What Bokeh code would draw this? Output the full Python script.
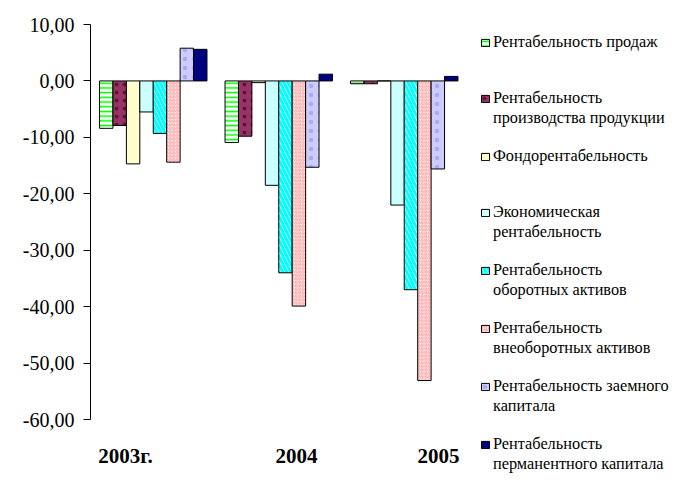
from bokeh.plotting import figure
from bokeh.models import (ColumnDataSource, Range1d, FixedTicker, CustomJSTickFormatter,
                          Legend, LegendItem, LinearAxis)
from bokeh.core.properties import value
from bokeh.transform import dodge
from bokeh.embed import file_html
from bokeh.resources import INLINE

# ---- data ----
categories = ["2003г.", "2004", "2005"]
series_names = [
    ["Рентабельность продаж"],
    ["Рентабельность", "производства продукции"],
    ["Фондорентабельность"],
    ["Экономическая", "рентабельность"],
    ["Рентабельность", "оборотных активов"],
    ["Рентабельность", "внеоборотных активов"],
    ["Рентабельность заемного", "капитала"],
    ["Рентабельность", "перманентного капитала"],
]
r_sales = [-8.4, -10.9, -0.5]
r_production = [-7.9, -9.8, -0.5]
r_fondo = [-14.7, -0.3, 0.0]
r_economic = [-5.5, -18.5, -22.0]
r_current_assets = [-9.3, -34.0, -37.0]
r_noncurrent_assets = [-14.4, -39.9, -53.1]
r_borrowed = [5.8, -15.3, -15.6]
r_permanent = [5.6, 1.2, 0.8]
y_ticks = [-60, -50, -40, -30, -20, -10, 0, 10]

series = [r_sales, r_production, r_fondo, r_economic, r_current_assets,
          r_noncurrent_assets, r_borrowed, r_permanent]

# ---- styles ----
FONT = "Liberation Serif"
styles = [
    dict(fill_color="white", hatch_pattern="-", hatch_color="#00FF00", hatch_scale=4.7, hatch_weight=1.6),
    dict(fill_color="#993366", hatch_pattern=".", hatch_color="#5c1538", hatch_scale=8, hatch_weight=1),
    dict(fill_color="#FFFFCC"),
    dict(fill_color="#CCFFFF"),
    dict(fill_color="white", hatch_pattern="\\", hatch_color="#00FFFF", hatch_scale=8, hatch_weight=3),
    dict(fill_color="white", hatch_pattern="/", hatch_color="#FF9999", hatch_scale=3.5, hatch_weight=1),
    dict(fill_color="#CCCCFF", hatch_pattern=".", hatch_color="#aaaaee", hatch_scale=9, hatch_weight=1),
    dict(fill_color="#000080"),
]
label_offsets = [-0.221, 0.141, 0.273]
label_y = -66.4
PX_PER_UNIT = 395 / 70.0

data = {"x": [i + 0.5 for i in range(len(categories))]}
for k, s in enumerate(series):
    data[f"s{k}"] = s
source = ColumnDataSource(data)
lab_source = ColumnDataSource(dict(x=[i + 0.5 + label_offsets[i] for i in range(len(categories))],
                                   y=[label_y] * len(categories), text=categories))

H = 487
p = figure(width=680, height=H, output_backend="svg", toolbar_location=None,
           x_range=Range1d(0, 4.701),
           y_range=Range1d(-60 - (H - 419) / PX_PER_UNIT, 10 + 24 / PX_PER_UNIT),
           min_border_left=90, min_border_right=0, min_border_top=0, min_border_bottom=0,
           x_axis_location=None, y_axis_location=None)
p.outline_line_color = None
p.xgrid.visible = False
p.ygrid.visible = False

bar_w = 0.107
renderers = []
for k in range(len(series)):
    off = (k - 3.5) * bar_w
    r = p.vbar(x=dodge("x", off, range=p.x_range), top=f"s{k}", bottom=0, width=bar_w,
               source=source, line_color="black", line_width=1, **styles[k])
    renderers.append(r)

# y axis
yaxis = LinearAxis(ticker=FixedTicker(ticks=y_ticks), bounds=(-60, 10))
yaxis.formatter = CustomJSTickFormatter(code="return tick.toFixed(2).replace('.', ',');")
yaxis.major_label_text_font = FONT
yaxis.major_label_text_font_size = "20px"
yaxis.major_label_text_color = "black"
yaxis.major_tick_out = 7
yaxis.major_tick_in = 0
yaxis.minor_tick_out = 0
yaxis.minor_tick_in = 0
yaxis.major_label_standoff = 9
yaxis.axis_line_color = "black"
yaxis.major_tick_line_color = "black"
p.add_layout(yaxis, "left")

# category labels
p.text(x="x", y="y", text="text", source=lab_source, text_font=value(FONT),
       text_font_size="21px", text_font_style="bold", text_color="black",
       text_align="center", text_baseline="middle")

items = []
for k in range(len(series)):
    lines = series_names[k]
    items.append(LegendItem(label=lines[0], renderers=[renderers[k]]))
    items.append(LegendItem(label=lines[1] if len(lines) > 1 else " ", renderers=[]))
    if k < len(series) - 1:
        items.append(LegendItem(label=" ", renderers=[]))
legend = Legend(items=items, location=(390, 13), orientation="vertical",
                padding=0, margin=0, spacing=0, glyph_width=10, glyph_height=9,
                label_standoff=3, border_line_color=None, background_fill_alpha=0,
                label_text_font=FONT, label_text_font_size="16.3px", label_text_color="black",
                label_text_line_height=1.0, label_height=18)
p.add_layout(legend)

open("out.html", "w").write(file_html(p, INLINE))
